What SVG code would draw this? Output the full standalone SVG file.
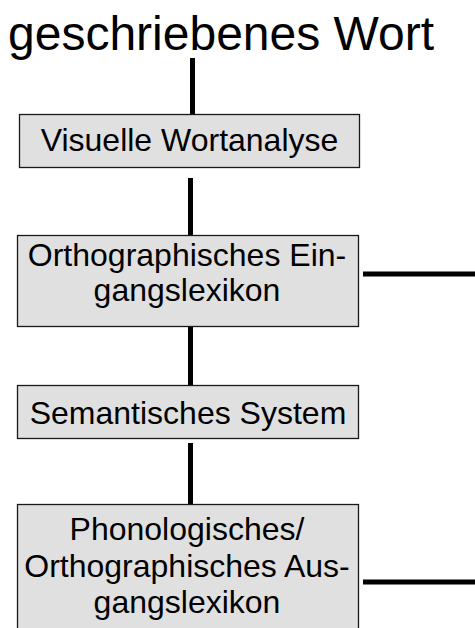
<svg xmlns="http://www.w3.org/2000/svg" width="475" height="628" viewBox="0 0 475 628">
  <style>
    .box { fill: #e0e0e0; stroke: #1a1a1a; stroke-width: 1.3; }
    .lbl { font-family: "Liberation Sans", Arial, sans-serif; font-size: 32px; fill: #000; text-anchor: middle; }
    .title { font-family: "Liberation Sans", Arial, sans-serif; font-size: 48px; fill: #000; }
    .link { stroke: #000; stroke-width: 5; fill: none; }
  </style>
  <rect width="475" height="628" fill="#fff"/>

  <text class="title" x="8" y="50">geschriebenes Wort</text>

  <g id="connectors">
    <line class="link" x1="192.5" y1="58" x2="192.5" y2="114"/>
    <line class="link" x1="190.5" y1="178" x2="190.5" y2="235"/>
    <line class="link" x1="190.5" y1="327" x2="190.5" y2="385"/>
    <line class="link" x1="190.5" y1="443" x2="190.5" y2="504"/>
    <line class="link" x1="363" y1="274" x2="475" y2="274"/>
    <line class="link" x1="363" y1="582" x2="475" y2="582"/>
  </g>

  <g id="visuelle-wortanalyse">
    <rect class="box" x="19.5" y="114.5" width="340" height="53"/>
    <text class="lbl" x="189.5" y="151">Visuelle Wortanalyse</text>
  </g>

  <g id="orthographisches-eingangslexikon">
    <rect class="box" x="17.5" y="235.5" width="341" height="91"/>
    <text class="lbl" x="187" y="266">Orthographisches Ein-</text>
    <text class="lbl" x="187" y="301">gangslexikon</text>
  </g>

  <g id="semantisches-system">
    <rect class="box" x="17.5" y="385.5" width="341" height="53"/>
    <text class="lbl" x="188" y="424">Semantisches System</text>
  </g>

  <g id="ausgangslexikon">
    <rect class="box" x="17.5" y="504.5" width="341" height="130"/>
    <text class="lbl" x="187" y="540">Phonologisches/</text>
    <text class="lbl" x="187" y="577">Orthographisches Aus-</text>
    <text class="lbl" x="187" y="613">gangslexikon</text>
  </g>
</svg>
